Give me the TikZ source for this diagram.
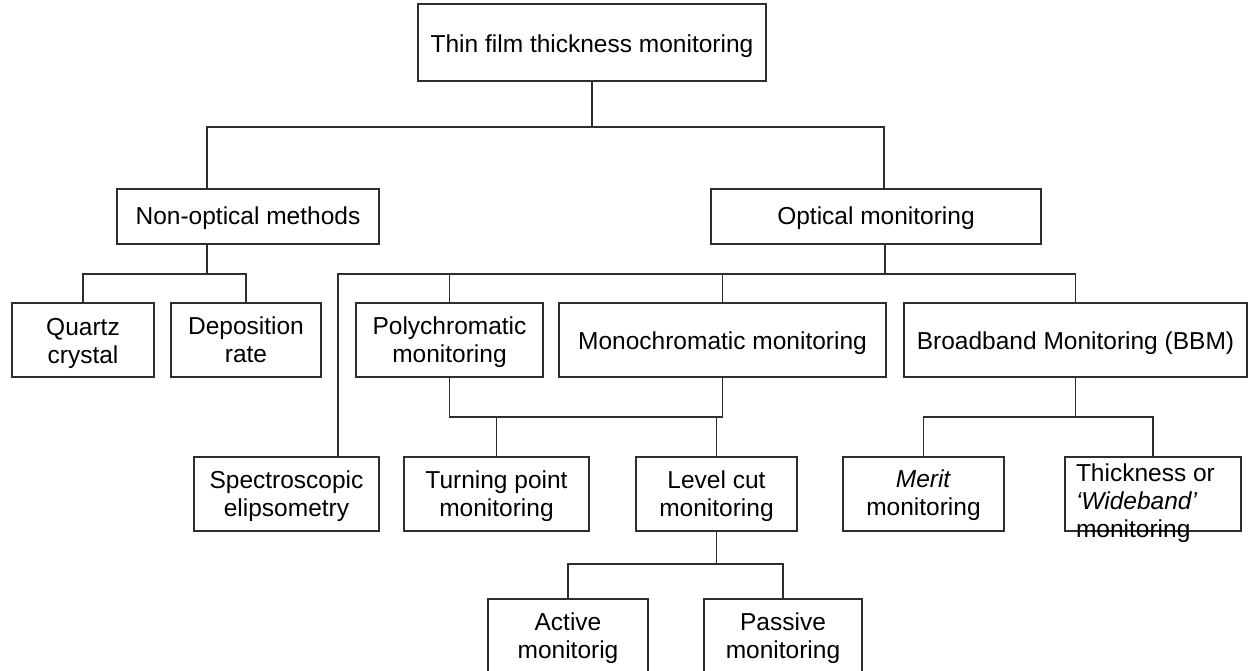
\documentclass[tikz,border=0pt]{standalone}
\usepackage{fontspec}
\setmainfont{Liberation Sans}
\newcommand{\tl}[2][3pt]{\raisebox{-#1}[\height][\depth]{\begin{tabular}{@{}c@{}}#2\end{tabular}}}
\tikzset{
  box/.style={draw=black!82, line width=1.2pt, inner sep=0pt, outer sep=0pt, fill=white,
              font=\fontsize{24.5}{28}\selectfont},
  conn/.style={draw=black!82, line width=1.2pt},
  lbl/.style={inner sep=0pt, outer sep=0pt, font=\fontsize{24.5}{28}\selectfont}
}
\begin{document}
\begin{tikzpicture}[x=1pt,y=-1pt]
\useasboundingbox (0,0) rectangle (1248,671);
% boxes
\node[box, minimum width=348pt, minimum height=77pt] (top) at (592,42.5) {\tl[4.5pt]{Thin film thickness monitoring}};
\node[box, minimum width=262pt, minimum height=55pt] (nonopt) at (248,216.5) {\tl[2pt]{Non-optical methods}};
\node[box, minimum width=330pt, minimum height=55pt] (opt) at (876,216.5) {\tl[2pt]{Optical monitoring}};
\node[box, minimum width=142pt, minimum height=74pt] (quartz) at (83,340) {\tl[4pt]{Quartz\\crystal}};
\node[box, minimum width=150pt, minimum height=74pt] (depo) at (246,340) {\tl[3pt]{Deposition\\rate}};
\node[box, minimum width=187pt, minimum height=74pt] (poly) at (449.5,340) {\tl[3pt]{Polychromatic\\monitoring}};
\node[box, minimum width=327pt, minimum height=74pt] (mono) at (722.5,340) {\tl[4pt]{Monochromatic monitoring}};
\node[box, minimum width=343pt, minimum height=74pt] (bbm) at (1075.5,340) {\tl[4pt]{Broadband Monitoring (BBM)}};
\node[box, minimum width=185pt, minimum height=74pt] (spec) at (286.5,494) {\tl[3pt]{Spectroscopic\\elipsometry}};
\node[box, minimum width=185pt, minimum height=74pt] (turn) at (496.5,494) {\tl[3pt]{Turning point\\monitoring}};
\node[box, minimum width=161pt, minimum height=74pt] (level) at (716.5,494) {\tl[3pt]{Level cut\\monitoring}};
\node[box, minimum width=161pt, minimum height=74pt] (merit) at (923.5,494) {\tl[2pt]{\textit{Merit}\\monitoring}};
\node[box, minimum width=176pt, minimum height=74pt] (thick) at (1153,494) {};
\node[lbl, align=left, anchor=west] (thicktxt) at (1076,503) {Thickness or\\\textit{‘Wideband’}\\monitoring};
\node[box, minimum width=160pt, minimum height=75pt] (active) at (568,636.5) {\tl[2.5pt]{Active\\monitorig}};
\node[box, minimum width=158pt, minimum height=75pt] (passive) at (783,636.5) {\tl[2.5pt]{Passive\\monitoring}};
% junctions
\coordinate (t1) at (592,127);
\coordinate (n1) at (207,274);
\coordinate (o1) at (885,274);
\coordinate (b1) at (600,417);
\coordinate (c1) at (1077,417);
\coordinate (d1) at (716.5,564);
% connectors
\draw[conn] (top.south) -- (t1);
\draw[conn] ([xshift=-41pt]nonopt.north) |- (t1) -| ([xshift=8pt]opt.north);
\draw[conn] ([xshift=-41pt]nonopt.south) -- (n1);
\draw[conn] (quartz.north) |- (n1) -| (depo.north);
\draw[conn] ([xshift=9pt]opt.south) -- (o1);
\draw[conn] ([xshift=51.5pt]spec.north) |- (o1);
\draw[conn] (bbm.north) |- (o1);
\draw[conn] (poly.north) -- (poly.north |- o1);
\draw[conn] (mono.north) -- (mono.north |- o1);
\draw[conn] (poly.south) |- (b1) -| (mono.south);
\draw[conn] (turn.north) -- (turn.north |- b1);
\draw[conn] (level.north) -- (level.north |- b1);
\draw[conn] (bbm.south) -- (bbm.south |- c1);
\draw[conn] (merit.north) |- (c1) -| (thick.north);
\draw[conn] (level.south) -- (d1);
\draw[conn] (active.north) |- (d1) -| (passive.north);
\end{tikzpicture}
\end{document}
